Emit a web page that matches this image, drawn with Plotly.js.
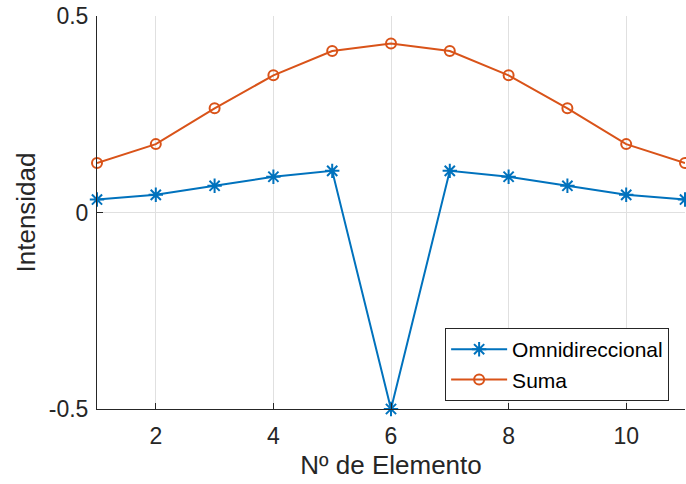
<!DOCTYPE html>
<html>
<head>
<meta charset="utf-8">
<script src="https://cdn.plot.ly/plotly-3.0.1.min.js"></script>
<style>
  html, body { margin: 0; padding: 0; background: #ffffff; }
  #chart { width: 686px; height: 484px; }
</style>
</head>
<body>
<div id="chart"></div>
<script>
// Element index along the array
const elementos = [1, 2, 3, 4, 5, 6, 7, 8, 9, 10, 11];
// Intensity per element
const omnidireccional = [0.033, 0.045, 0.068, 0.091, 0.106, -0.5, 0.106, 0.091, 0.068, 0.045, 0.033];
const suma = [0.126, 0.174, 0.265, 0.349, 0.411, 0.430, 0.411, 0.349, 0.265, 0.174, 0.126];

const xTicks = [2, 4, 6, 8, 10];
const yTicks = [-0.5, 0, 0.5];
const yTickText = ['-0.5', '0', '0.5'];

const FONT = 'Liberation Sans, Arial, Helvetica, sans-serif';
const LEGEND_SYMBOL_WIDTH = 56;

const traces = [
  {
    x: elementos, y: omnidireccional, name: 'Omnidireccional',
    type: 'scatter', mode: 'lines+markers', cliponaxis: false,
    line: { color: '#0072BD', width: 2 },
    marker: { symbol: 'asterisk-open', size: 12, color: '#0072BD', line: { color: '#0072BD', width: 2 } }
  },
  {
    x: elementos, y: suma, name: 'Suma',
    type: 'scatter', mode: 'lines+markers', cliponaxis: false,
    line: { color: '#D95319', width: 2 },
    marker: { symbol: 'circle-open', size: 10, color: '#D95319', line: { color: '#D95319', width: 2 } }
  }
];

const layout = {
  width: 686, height: 484,
  margin: { l: 97, r: 1, t: 16, b: 75, pad: 0 },
  paper_bgcolor: '#ffffff', plot_bgcolor: '#ffffff',
  font: { family: FONT, size: 23, color: '#262626' },
  showlegend: true,
  legend: {
    x: 0.973, xanchor: 'right', y: 0.206, yanchor: 'top',
    bgcolor: '#ffffff', bordercolor: '#262626', borderwidth: 1,
    font: { family: FONT, size: 21, color: '#000000' },
    itemwidth: LEGEND_SYMBOL_WIDTH,
    tracegroupgap: 0
  },
  xaxis: {
    range: [1, 11], tickvals: xTicks, ticks: 'inside', ticklen: 6, tickcolor: '#262626',
    showline: true, linecolor: '#262626', linewidth: 1, mirror: false,
    showgrid: true, gridcolor: '#e0e0e0', gridwidth: 1, zeroline: false,
    tickfont: { family: FONT, size: 23, color: '#262626' },
    ticklabelstandoff: 6,
    title: { text: 'Nº de Elemento', font: { family: FONT, size: 26, color: '#262626' }, standoff: 8 }
  },
  yaxis: {
    range: [-0.5, 0.5], tickvals: yTicks, ticktext: yTickText, ticks: 'inside', ticklen: 6, tickcolor: '#262626',
    showline: true, linecolor: '#262626', linewidth: 1, mirror: false,
    showgrid: true, gridcolor: '#e0e0e0', gridwidth: 1, zeroline: false,
    tickfont: { family: FONT, size: 23, color: '#262626' },
    ticklabelstandoff: 3,
    title: { text: 'Intensidad', font: { family: FONT, size: 26, color: '#262626' }, standoff: 5 }
  }
};

Plotly.newPlot('chart', traces, layout, { displayModeBar: false, staticPlot: true });
</script>
</body>
</html>
